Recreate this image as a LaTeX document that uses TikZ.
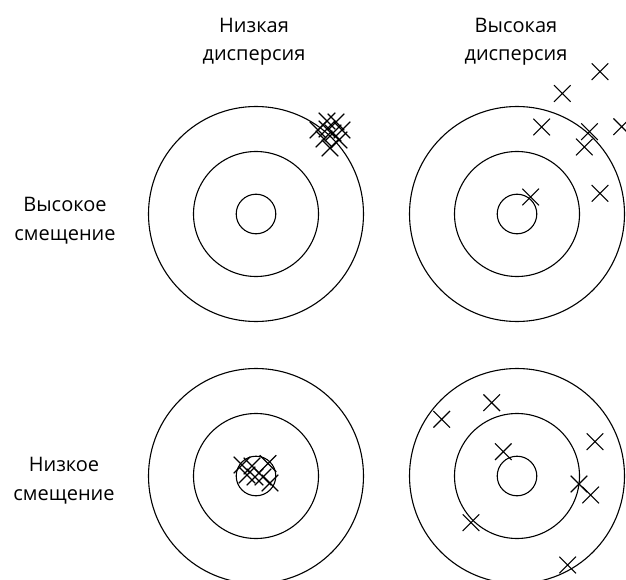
\documentclass[tikz,border=0pt]{standalone}
\usepackage{fontspec}
\setmainfont{Open Sans}
\begin{document}
\begin{tikzpicture}[x=1pt,y=-1pt,
  ring/.style={line width=1.1pt},
  lbl/.style={align=center,inner sep=0pt,font=\fontsize{20}{28.5}\selectfont,anchor=base},
  xcross/.pic={\draw[line width=1.1pt] (-8.3,-8.3)--(8.3,8.3) (-8.3,8.3)--(8.3,-8.3);}]
\useasboundingbox (0,0) rectangle (626,580);
\clip (0,0) rectangle (626,580);
% labels
\node[lbl] (lowvar) at (254,61) {Низкая\\дисперсия};
\node[lbl] (highvar) at (516,61) {Высокая\\дисперсия};
\node[lbl] (highbias) at (65,240) {Высокое\\смещение};
\node[lbl] (lowbias) at (64,500) {Низкое\\смещение};
% targets
\foreach \cx/\cy in {256/214, 517/214, 256/476, 517/476}{
  \draw[ring] (\cx,\cy) circle[radius=107.5pt];
  \draw[ring] (\cx,\cy) circle[radius=62.5pt];
  \draw[ring] (\cx,\cy) circle[radius=19.8pt];
}
% top-left: low variance, high bias
\foreach \p in {(318,130),(327,121),(336,122),(342,130),(324,139),(333,133),(339,140),(330,148),(327,129)}
  \pic at \p {xcross};
% top-right: high variance, high bias
\foreach \p in {(600,71.7),(562.3,93.5),(541.7,127),(589.5,131.7),(584.3,147),(621.7,126.7),(600,193.3),(530.7,197)}
  \pic at \p {xcross};
% bottom-left: low variance, low bias
\foreach \p in {(242,465),(268,463.5),(263,477),(247,475),(270,483),(255,477),(252,466)}
  \pic at \p {xcross};
% bottom-right: high variance, low bias
\foreach \p in {(441.7,419.3),(491.7,402.7),(503.3,451.7),(595,441.7),(579,484),(590.7,495),(471,522.7),(567.7,565)}
  \pic at \p {xcross};
\end{tikzpicture}
\end{document}
